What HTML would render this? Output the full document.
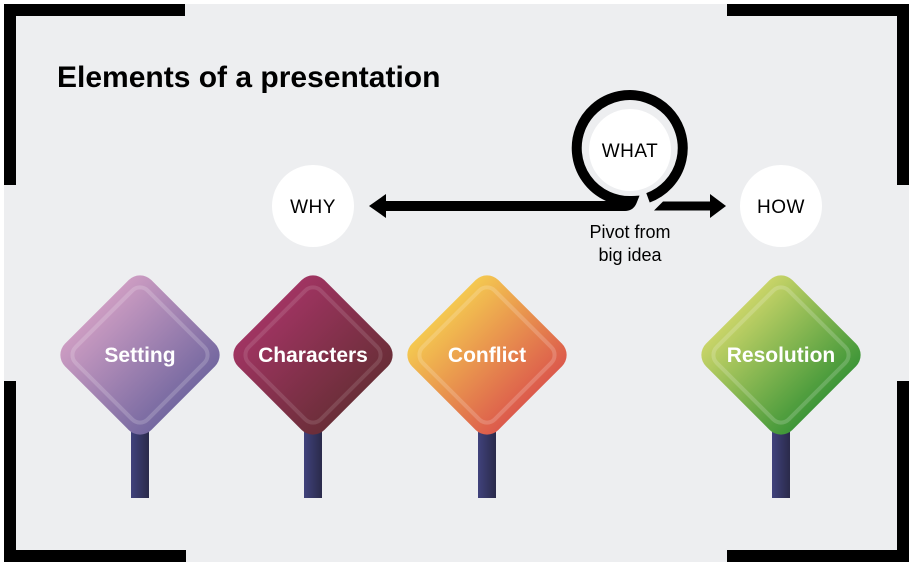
<!DOCTYPE html>
<html><head><style>
body{margin:0;width:913px;height:569px;background:#fff;overflow:hidden;font-family:"Liberation Sans",sans-serif}
</style></head><body>
<svg width="913" height="569" viewBox="0 0 913 569" xmlns="http://www.w3.org/2000/svg">
<defs>
<linearGradient id="gS" x1="0" y1="0" x2="1" y2="0"><stop offset="0" stop-color="#cc9cc2"/><stop offset="1" stop-color="#7468a0"/></linearGradient>
<linearGradient id="gC" x1="0" y1="0" x2="1" y2="0"><stop offset="0" stop-color="#a03462"/><stop offset="1" stop-color="#6a2e38"/></linearGradient>
<linearGradient id="gF" x1="0" y1="0" x2="1" y2="0"><stop offset="0" stop-color="#f4c850"/><stop offset="1" stop-color="#dc5a4c"/></linearGradient>
<linearGradient id="gR" x1="0" y1="0" x2="1" y2="0"><stop offset="0" stop-color="#c8d468"/><stop offset="1" stop-color="#3e9638"/></linearGradient>
<linearGradient id="gP" x1="0" y1="0" x2="1" y2="0"><stop offset="0" stop-color="#40427c"/><stop offset="1" stop-color="#2a2a4a"/></linearGradient>
</defs>
<rect x="4" y="4" width="905" height="558" fill="#edeef0"/>
<g fill="#000">
<rect x="4" y="4" width="181" height="12"/><rect x="4" y="4" width="12" height="181"/>
<rect x="4" y="550" width="182" height="12"/><rect x="4" y="381" width="12" height="181"/>
<rect x="727" y="4" width="182" height="12"/><rect x="897" y="4" width="12" height="181"/>
<rect x="727" y="550" width="182" height="12"/><rect x="897" y="381" width="12" height="181"/>
</g>
<text x="57" y="87" font-size="30" font-weight="bold" fill="#000">Elements of a presentation</text>
<circle cx="313" cy="206" r="41" fill="#fff"/>
<text x="313" y="213" font-size="19" text-anchor="middle" fill="#000" letter-spacing="0.5">WHY</text>
<circle cx="781" cy="206" r="41" fill="#fff"/>
<text x="781" y="213" font-size="19" text-anchor="middle" fill="#000" letter-spacing="0.5">HOW</text>
<circle cx="630" cy="150" r="41" fill="#fff"/>
<text x="630" y="157" font-size="19" text-anchor="middle" fill="#000" letter-spacing="0.5">WHAT</text>
<path d="M384 206 H625 Q630 206 632 201 A53 53 0 1 1 648 197.8" fill="none" stroke="#000" stroke-width="10"/>
<polygon points="654,210.5 712,210.5 712,201.5 663,201.5" fill="#000"/>
<polygon points="369,206 386,194 386,218" fill="#000"/>
<polygon points="726,206 710,194 710,218" fill="#000"/>
<text x="630" y="238" font-size="18" text-anchor="middle" fill="#000">Pivot from</text>
<text x="630" y="261" font-size="18" text-anchor="middle" fill="#000">big idea</text>
<g>
<rect x="131" y="425" width="18" height="73" fill="url(#gP)"/>
<rect x="304" y="425" width="18" height="73" fill="url(#gP)"/>
<rect x="478" y="425" width="18" height="73" fill="url(#gP)"/>
<rect x="772" y="425" width="18" height="73" fill="url(#gP)"/>
</g>
<g transform="translate(140,355) rotate(45)"><rect x="-61" y="-61" width="122" height="122" rx="16" fill="url(#gS)"/><rect x="-51" y="-51" width="102" height="102" rx="11" fill="none" stroke="#fff" stroke-opacity=".18" stroke-width="4"/></g>
<g transform="translate(313,355) rotate(45)"><rect x="-61" y="-61" width="122" height="122" rx="16" fill="url(#gC)"/><rect x="-51" y="-51" width="102" height="102" rx="11" fill="none" stroke="#fff" stroke-opacity=".12" stroke-width="4"/></g>
<g transform="translate(487,355) rotate(45)"><rect x="-61" y="-61" width="122" height="122" rx="16" fill="url(#gF)"/><rect x="-51" y="-51" width="102" height="102" rx="11" fill="none" stroke="#fff" stroke-opacity=".18" stroke-width="4"/></g>
<g transform="translate(781,355) rotate(45)"><rect x="-61" y="-61" width="122" height="122" rx="16" fill="url(#gR)"/><rect x="-51" y="-51" width="102" height="102" rx="11" fill="none" stroke="#fff" stroke-opacity=".18" stroke-width="4"/></g>
<g font-size="21" font-weight="bold" fill="#fff" text-anchor="middle">
<text x="140" y="362">Setting</text>
<text x="313" y="362">Characters</text>
<text x="487" y="362">Conflict</text>
<text x="781" y="362">Resolution</text>
</g>
</svg>
</body></html>
